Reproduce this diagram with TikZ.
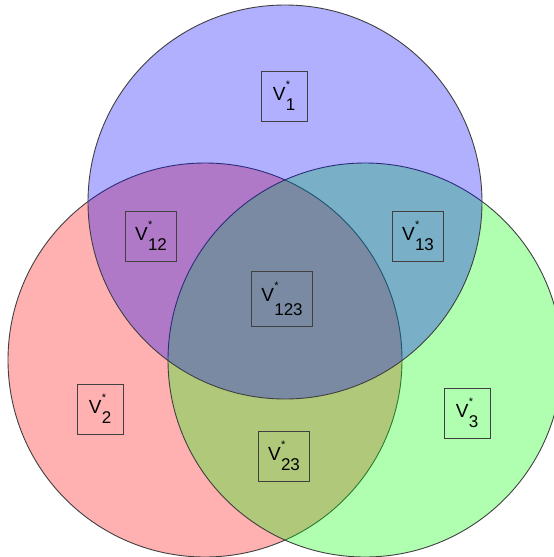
\documentclass[tikz,border=0pt]{standalone}
\usepackage{fontspec}
\setmainfont{Liberation Sans}
% V with a starred superscript and a numeric subscript
\newcommand\vlab[2][10pt]{V\kern0.3pt\makebox[0pt][l]{\raisebox{12pt}{\fontsize{11}{11}\selectfont *}}\raisebox{-#1}{\fontsize{17}{17}\selectfont #2}}
\definecolor{setred}{RGB}{255,0,0}
\definecolor{setgreen}{RGB}{0,255,0}
\definecolor{setblue}{RGB}{0,0,255}
\definecolor{edge}{RGB}{64,64,64}
\begin{document}
\begin{tikzpicture}[x=1pt,y=-1pt,
  setdisk/.style={line width=0.9pt, draw=edge, fill opacity=0.31},
  lab/.style={draw=edge, line width=0.9pt, minimum width=46pt, minimum height=50pt,
              inner xsep=10pt, font=\fontsize{19}{19}\selectfont}]
\useasboundingbox (0,0) rectangle (554,557);
\clip (0,0) rectangle (554,557);
% the three sets
\path[setdisk, fill=setred]   (205,360) circle[radius=197pt];
\path[setdisk, fill=setgreen] (365,360) circle[radius=197pt];
\path[setdisk, fill=setblue]  (285,202) circle[radius=197pt];
% region labels
\node[lab] (v1)   at (284,96)  {\vlab{1}};
\node[lab] (v12)  at (151,236) {\vlab{12}};
\node[lab] (v13)  at (418,236) {\vlab{13}};
\node[lab, minimum height=55pt] (v123) at (282,299) {\vlab[14pt]{123}};
\node[lab] (v2)   at (100,409) {\vlab{2}};
\node[lab] (v3)   at (467,413) {\vlab{3}};
\node[lab] (v23)  at (284,456) {\vlab{23}};
\end{tikzpicture}
\end{document}
